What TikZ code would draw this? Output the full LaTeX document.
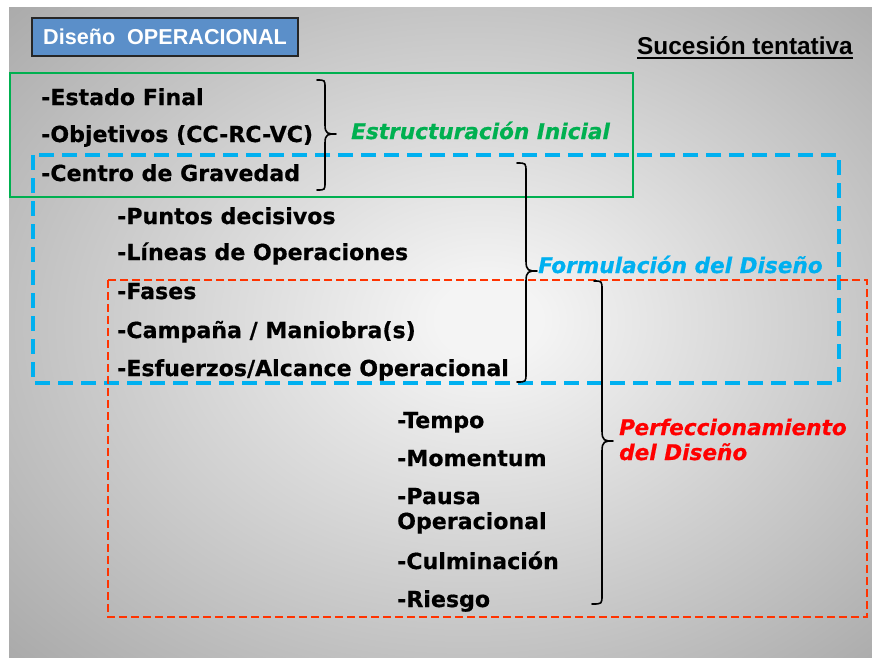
\documentclass[tikz,border=0pt]{standalone}
\usepackage{fontspec}
\setmainfont{DejaVu Sans}[BoldFeatures={FakeBold=0.6}, BoldItalicFeatures={FakeBold=0.6}]
\newfontfamily\arialfont{Liberation Sans}
\definecolor{bgin}{HTML}{F4F4F4}
\definecolor{bgout}{HTML}{A6A6A6}
\definecolor{cgreen}{HTML}{00B050}
\definecolor{cblue}{HTML}{00B0F0}
\definecolor{cred}{HTML}{FF3300}
\definecolor{tred}{HTML}{FF0000}
\definecolor{titleblue}{HTML}{5B8FC9}
\pgfdeclareradialshading{slidebg}{\pgfpoint{3bp}{1bp}}{color(0bp)=(bgin); color(3bp)=(bgin); color(38bp)=(bgout); color(50bp)=(bgout)}
\tikzset{
  itm/.style={anchor=base west, inner sep=0pt, font=\fontsize{22.1}{25}\selectfont\bfseries},
  lbl/.style={anchor=base west, inner sep=0pt, font=\fontsize{21.6}{25}\selectfont\bfseries\itshape},
  bracepath/.style={draw=black, line width=1.6pt, line join=round, line cap=round},
}
\begin{document}
\begin{tikzpicture}[x=1pt,y=-1pt]
\useasboundingbox (0,0) rectangle (872,657);
\fill[white] (0,0) rectangle (872,657);
\shade[shading=slidebg] (9,7) rectangle (872,657);

% title
\node[draw=black!85, line width=1.2pt, fill=titleblue, minimum width=266pt, minimum height=38pt, inner sep=0pt,
      text=white, font=\arialfont\fontsize{21.6}{24}\selectfont\bfseries] (title) at (165,37) {Diseño\ \ OPERACIONAL};
\node[anchor=base west, inner sep=0pt, font=\arialfont\fontsize{24.4}{28}\selectfont\bfseries] (suc) at (637,54) {Sucesión tentativa};
\draw[line width=2pt] ([yshift=-3.5pt]suc.base west) -- ([yshift=-3.5pt]suc.base east);

% boxes
\draw[cgreen, line width=2.2pt] (10,73) rectangle (633,197);
\draw[cblue, line width=4pt, dash pattern=on 15pt off 8pt] (33,155) rectangle (839,383);
\draw[cred, line width=2.6pt, dash pattern=on 8pt off 4pt] (108,280) rectangle (867,617);

% items
\node[itm] (i1) at (41,105) {-Estado Final};
\node[itm] (i2) at (41,142) {-Objetivos (CC-RC-VC)};
\node[itm] (i3) at (41,181) {-Centro de Gravedad};
\node[itm] (i4) at (117,224) {-Puntos decisivos};
\node[itm] (i5) at (117,260) {-Líneas de Operaciones};
\node[itm] (i6) at (117,299) {-Fases};
\node[itm] (i7) at (117,338) {-Campaña / Maniobra(s)};
\node[itm] (i8) at (117,376) {-Esfuerzos/Alcance Operacional};
\node[itm] (i9) at (397,428) {-Tempo};
\node[itm] (i10) at (397,466) {-Momentum};
\node[itm] (i11) at (397,504) {-Pausa};
\node[itm] (i12) at (397,529) {Operacional};
\node[itm] (i13) at (397,569) {-Culminación};
\node[itm] (i14) at (397,607) {-Riesgo};

% braces
\draw[bracepath] (317,80) .. controls (325,80) .. (325,88) -- (325,125) .. controls (325,134) and (328,134) .. (336,134)
  .. controls (328,134) and (325,134) .. (325,143) -- (325,182) .. controls (325,190) .. (317,190);
\draw[bracepath] (517,163) .. controls (526,163) .. (526,172) -- (526,261) .. controls (526,271) and (529,271) .. (537,271)
  .. controls (529,271) and (526,271) .. (526,281) -- (526,373) .. controls (526,382) .. (517,382);
\draw[bracepath] (594,281) .. controls (602,281) .. (602,290) -- (602,431) .. controls (602,441) and (605,441) .. (613,441)
  .. controls (605,441) and (602,441) .. (602,451) -- (602,595) .. controls (602,604) .. (592,604);

% labels
\node[lbl, text=cgreen] (l1) at (351,139) {Estructuración Inicial};
\node[lbl, text=cblue] (l2) at (538,273) {Formulación del Diseño};
\node[lbl, text=tred] (l3a) at (619,435) {Perfeccionamiento};
\node[lbl, text=tred] (l3b) at (619,460) {del Diseño};
\end{tikzpicture}
\end{document}
